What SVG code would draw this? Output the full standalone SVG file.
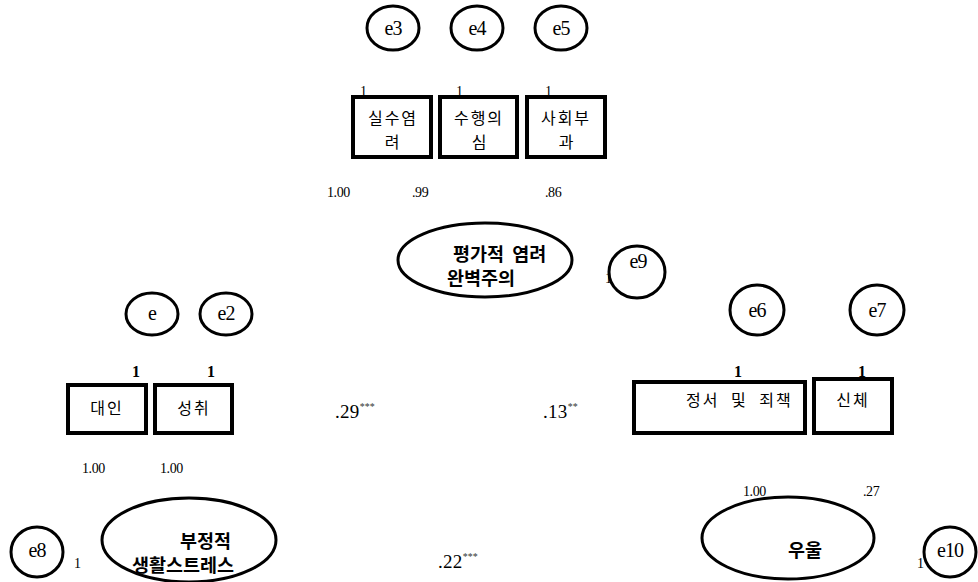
<svg xmlns="http://www.w3.org/2000/svg" width="978" height="582" viewBox="0 0 978 582">
<style>
  .err { fill: #fff; stroke: #000; stroke-width: 3; }
  .box { fill: #fff; stroke: #000; stroke-width: 4; }
  .lat { fill: #fff; stroke: #000; stroke-width: 3; }
  .et { font-family: "Liberation Serif", "DejaVu Serif", serif; font-size: 20px; fill: #000; text-anchor: middle; letter-spacing: -1px; }
  .kr { font-family: "Noto Sans CJK KR", sans-serif; font-size: 16px; fill: #000; text-anchor: middle; letter-spacing: 2px; }
  .krb { font-family: "Noto Sans CJK KR", sans-serif; font-size: 18.5px; font-weight: bold; fill: #000; }
  .num { font-family: "Liberation Serif", "DejaVu Serif", serif; font-size: 14px; fill: #000; letter-spacing: -0.4px; }
  .one { font-family: "Liberation Serif", "DejaVu Serif", serif; font-size: 14px; fill: #000; }
  .oneb { font-family: "Liberation Serif", "DejaVu Serif", serif; font-size: 16px; font-weight: bold; fill: #000; }
  .coef { font-family: "Liberation Serif", "DejaVu Serif", serif; font-size: 19px; fill: #000; letter-spacing: 0.3px; }
  .star { font-family: "Liberation Serif", "DejaVu Serif", serif; font-size: 10px; fill: #333; }
</style>
<rect width="978" height="582" fill="#fff"/>
<g id="connectors"/>

<!-- top error terms -->
<g id="e3"><ellipse class="err" cx="393" cy="28" rx="26" ry="22"/><text class="et" x="393" y="35">e3</text></g>
<g id="e4"><ellipse class="err" cx="477" cy="28" rx="26" ry="22"/><text class="et" x="477" y="35">e4</text></g>
<g id="e5"><ellipse class="err" cx="561" cy="28" rx="26" ry="22"/><text class="et" x="561" y="35">e5</text></g>

<!-- top indicators -->
<g id="mistake"><rect class="box" x="353" y="97" width="78" height="60"/><text class="kr" x="393" y="124">실수염</text><text class="kr" x="393" y="148">려</text></g>
<g id="doubt"><rect class="box" x="440" y="97" width="77" height="60"/><text class="kr" x="479" y="124">수행의</text><text class="kr" x="480" y="148">심</text></g>
<g id="social"><rect class="box" x="527" y="97" width="78" height="60"/><text class="kr" x="566" y="124">사회부</text><text class="kr" x="567" y="148">과</text></g>

<text class="one" x="360" y="96">1</text>
<text class="one" x="456" y="96">1</text>
<text class="one" x="545" y="96">1</text>

<text class="num" x="327" y="197">1.00</text>
<text class="num" x="412" y="197">.99</text>
<text class="num" x="545" y="197">.86</text>

<!-- perfectionism latent -->
<g id="perfectionism"><ellipse class="lat" cx="485" cy="260" rx="87" ry="37"/><text class="krb" x="453" y="261" word-spacing="4">평가적 염려</text><text class="krb" x="447" y="285">완벽주의</text></g>
<g id="e9"><ellipse class="err" cx="637" cy="272" rx="28" ry="26"/><text class="et" x="638" y="268">e9</text></g>
<text class="one" x="605" y="283">1</text>

<!-- left error terms -->
<g id="e"><ellipse class="err" cx="152" cy="314" rx="26" ry="21"/><text class="et" x="152" y="320">e</text></g>
<g id="e2"><ellipse class="err" cx="226" cy="314" rx="26" ry="21"/><text class="et" x="226" y="320">e2</text></g>
<text class="oneb" x="132" y="377">1</text>
<text class="oneb" x="207" y="377">1</text>

<g id="interpersonal"><rect class="box" x="68" y="385" width="78" height="48"/><text class="kr" x="107" y="414">대인</text></g>
<g id="achievement"><rect class="box" x="155" y="385" width="77" height="48"/><text class="kr" x="194" y="414">성취</text></g>

<text class="num" x="82" y="473">1.00</text>
<text class="num" x="160" y="473">1.00</text>

<!-- right error terms -->
<g id="e6"><ellipse class="err" cx="757" cy="310" rx="27" ry="25"/><text class="et" x="757" y="317">e6</text></g>
<g id="e7"><ellipse class="err" cx="877" cy="310" rx="27" ry="25"/><text class="et" x="877" y="317">e7</text></g>
<text class="oneb" x="734" y="377">1</text>
<text class="oneb" x="858" y="377">1</text>

<g id="emotion"><rect class="box" x="634" y="382" width="171" height="51"/><text class="kr" x="686" y="406" style="text-anchor:start" word-spacing="6">정서 및 죄책</text></g>
<g id="physical"><rect class="box" x="814" y="379" width="78" height="54"/><text class="kr" x="853" y="406">신체</text></g>

<!-- path coefficients -->
<text x="335" y="418"><tspan class="coef">.29</tspan><tspan class="star" dy="-8">***</tspan></text>
<text x="543" y="418"><tspan class="coef">.13</tspan><tspan class="star" dy="-8">**</tspan></text>
<text x="438" y="568"><tspan class="coef">.22</tspan><tspan class="star" dy="-8">***</tspan></text>

<!-- bottom -->
<g id="e8"><ellipse class="err" cx="37" cy="552" rx="26" ry="25"/><text class="et" x="37" y="557">e8</text></g>
<text class="one" x="74" y="568">1</text>
<g id="stress"><ellipse class="lat" cx="189" cy="540" rx="87" ry="42"/><text class="krb" x="180" y="548">부정적</text><text class="krb" x="132" y="572">생활스트레스</text></g>

<text class="num" x="743" y="496">1.00</text>
<text class="num" x="863" y="496">.27</text>
<g id="depression"><ellipse class="lat" cx="788" cy="538" rx="86" ry="41"/><text class="krb" x="788" y="557">우울</text></g>
<g id="e10"><ellipse class="err" cx="950" cy="552" rx="26" ry="25"/><text class="et" x="950" y="557">e10</text></g>
<text class="one" x="917" y="568">1</text>
</svg>
